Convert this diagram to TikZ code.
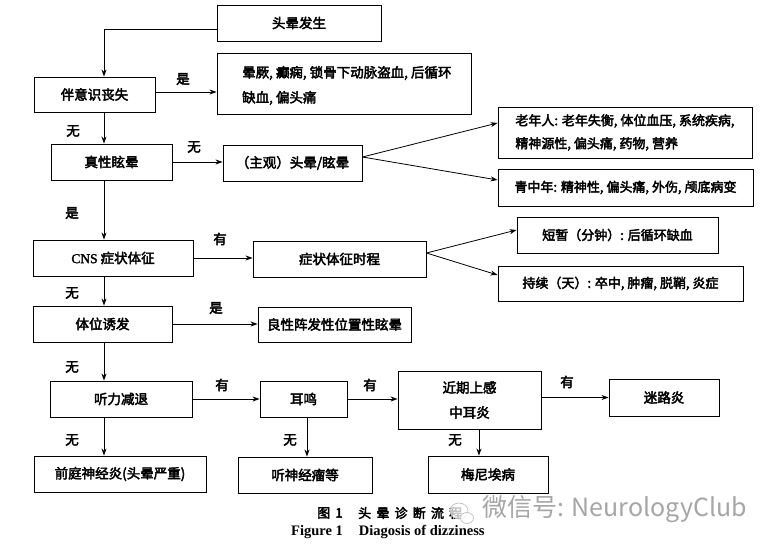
\documentclass[tikz,border=0pt]{standalone}
\usepackage{fontspec}
\setmainfont{Noto Sans CJK SC}[FakeBold=3]
\newfontfamily\latfont{Liberation Serif}[FakeBold=2]
\newfontfamily\capfont{Liberation Serif}
\newfontfamily\wmfont{Noto Sans CJK SC}
\newfontfamily\capcnfont{Noto Sans CJK SC}[FakeBold=3,LetterSpace=40]
\usetikzlibrary{arrows.meta}
\begin{document}
\begin{tikzpicture}[x=1pt,y=-1pt,
  box/.style={draw, line width=0.9pt, inner sep=0pt, font=\fontsize{13.5}{16}\selectfont},
  txt/.style={inner sep=0pt, font=\fontsize{13.5}{16}\selectfont},
  lbl/.style={inner sep=0pt, font=\fontsize{13.5}{16}\selectfont},
  arr/.style={-{Stealth[length=7pt,width=5pt]}, line width=0.8pt},
  ln/.style={line width=0.8pt}]
\fill[white] (0,0) rectangle (774,548);
\useasboundingbox (0,0) rectangle (774,548);
% boxes
\node[box, minimum width=164pt, minimum height=36pt] (start) at (299,23) {头晕发生};
\node[box, minimum width=121pt, minimum height=35pt] (loc) at (94.5,94.5) {伴意识丧失};
\node[box, minimum width=254pt, minimum height=61pt] (syn) at (344,83.5) {};
\node[txt, anchor=west, align=left, font=\fontsize{13.5}{25}\selectfont] (syntext) at (242,85.5) {晕厥, 癫痫, 锁骨下动脉盗血, 后循环\\缺血, 偏头痛};
\node[box, minimum width=121pt, minimum height=36pt] (vert) at (111.5,162) {真性眩晕};
\node[box, minimum width=139pt, minimum height=36pt] (subj) at (292.5,163) {（主观）头晕/眩晕};
\node[box, minimum width=254pt, minimum height=51pt, align=left, font=\fontsize{13}{23}\selectfont] (old) at (625,132.5) {老年人: 老年失衡, 体位血压, 系统疾病,\\精神源性, 偏头痛, 药物, 营养};
\node[box, minimum width=255pt, minimum height=37pt, font=\fontsize{13}{16}\selectfont] (young) at (625.5,187.5) {青中年: 精神性, 偏头痛, 外伤, 颅底病变};
\node[box, minimum width=160pt, minimum height=36pt] (cns) at (113,258) {{\latfont CNS} 症状体征};
\node[box, minimum width=173pt, minimum height=36pt] (course) at (339.5,259) {症状体征时程};
\node[box, minimum width=201pt, minimum height=36pt, font=\fontsize{13}{16}\selectfont] (short) at (617.5,235) {短暂（分钟）: 后循环缺血};
\node[box, minimum width=245pt, minimum height=35pt, font=\fontsize{13}{16}\selectfont] (long) at (620.5,283.5) {持续（天）: 卒中, 肿瘤, 脱鞘, 炎症};
\node[box, minimum width=139pt, minimum height=36pt] (pos) at (102.5,324) {体位诱发};
\node[box, minimum width=153pt, minimum height=35pt] (bppv) at (334.5,324.5) {良性阵发性位置性眩晕};
\node[box, minimum width=142pt, minimum height=36pt] (hear) at (121,399) {听力减退};
\node[box, minimum width=87pt, minimum height=36pt] (tinn) at (303.5,399) {耳鸣};
\node[box, minimum width=143pt, minimum height=58pt, align=center, font=\fontsize{13.5}{25}\selectfont] (uri) at (469.5,400) {近期上感\\中耳炎};
\node[box, minimum width=110pt, minimum height=37pt] (lab) at (664,397.5) {迷路炎};
\node[box, minimum width=172pt, minimum height=36pt] (vn) at (120,474) {前庭神经炎(头晕严重)};
\node[box, minimum width=134pt, minimum height=36pt] (an) at (305,475) {听神经瘤等};
\node[box, minimum width=120pt, minimum height=37pt] (men) at (488,474.5) {梅尼埃病};
% column coordinates
\coordinate (colx) at (104,0);
\coordinate (tx) at (307,0);
\coordinate (ux) at (479,0);
% connectors
\draw[arr] ([yshift=-6pt]start.west) -| (loc.north -| colx);
\draw[arr] (loc.south -| colx) -- (vert.north -| colx);
\draw[arr] (vert.south -| colx) -- (cns.north -| colx);
\draw[arr] (cns.south -| colx) -- (pos.north -| colx);
\draw[arr] (pos.south -| colx) -- (hear.north -| colx);
\draw[arr] (hear.south -| colx) -- (vn.north -| colx);
\draw[arr] ([yshift=2.5pt]loc.east) -- ([yshift=2.5pt]loc.east -| syn.west);
\draw[arr] (vert.east) -- (vert.east -| subj.west);
\draw[arr] (cns.east) -- (cns.east -| course.west);
\draw[arr] (pos.east) -- (pos.east -| bppv.west);
\draw[arr] (hear.east) -- (hear.east -| tinn.west);
\draw[arr] (tinn.east) -- (tinn.east -| uri.west);
\draw[arr] (lab.west -| uri.east) -- (lab.west);
\draw[arr] (tinn.south -| tx) -- (an.north -| tx);
\draw[arr] (uri.south -| ux) -- (men.north -| ux);
\draw[arr] ([yshift=6pt]subj.east) -- ([yshift=9.5pt]old.west);
\draw[arr] ([yshift=6pt]subj.east) -- ([yshift=7.5pt]young.west);
\draw[arr] ([yshift=6pt]course.east) -- ([yshift=5pt]short.west);
\draw[arr] ([yshift=6pt]course.east) -- ([yshift=8.5pt]long.west);
% labels
\node[lbl] (l1) at (183,79) {是};
\node[lbl] (l2) at (73,131) {无};
\node[lbl] (l3) at (194,147) {无};
\node[lbl] (l4) at (72,213) {是};
\node[lbl] (l5) at (220,239) {有};
\node[lbl] (l6) at (72,293) {无};
\node[lbl] (l7) at (216,308) {是};
\node[lbl] (l8) at (72,367) {无};
\node[lbl] (l9) at (222,385) {有};
\node[lbl] (l10) at (370,385) {有};
\node[lbl] (l11) at (567,382) {有};
\node[lbl] (l12) at (72,440) {无};
\node[lbl] (l13) at (290,440) {无};
\node[lbl] (l14) at (455,440) {无};
% caption
\node[inner sep=0pt, anchor=west, font=\capcnfont\fontsize{13}{15}\selectfont] (capfig) at (317,513) {图1};
\node[inner sep=0pt, anchor=west, font=\capcnfont\fontsize{13}{15}\selectfont] (capcn) at (358,513) {头晕诊断流程};
\node[inner sep=0pt, anchor=west, font=\capfont\bfseries\fontsize{14.5}{16}\selectfont] (capen) at (291,532) {Figure 1\hspace{16pt}Diagosis of dizziness};
% watermark
\draw[gray!55, fill=white, fill opacity=0.75, line width=0.6pt] (459,511) ellipse (9pt and 8pt);
\draw[gray!55, fill=white, fill opacity=0.75, line width=0.6pt] (467,518) ellipse (6.5pt and 5.5pt);
\node[inner sep=0pt, anchor=west, text=gray!70, font=\wmfont\fontsize{25}{28}\selectfont] (wm) at (482,509) {微信号: NeurologyClub};
\end{tikzpicture}
\end{document}
